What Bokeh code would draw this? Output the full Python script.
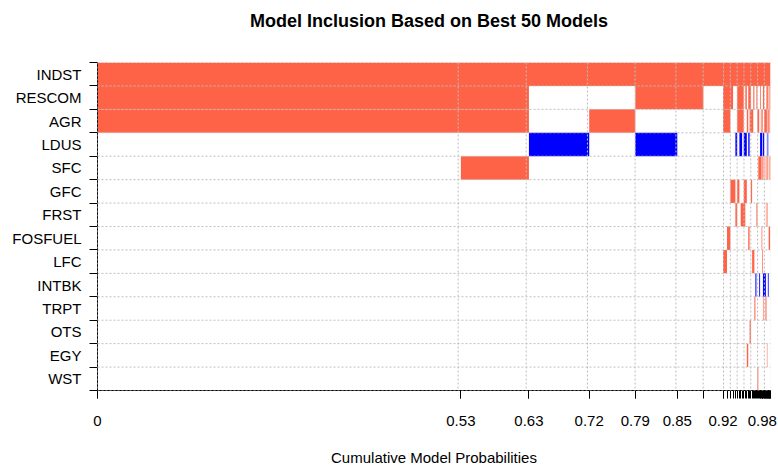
import numpy as np
from bokeh.plotting import figure
from bokeh.models import Range1d, FixedTicker, Span, Title
from bokeh.embed import file_html
from bokeh.resources import INLINE

# Regressors, ordered by posterior inclusion probability (top to bottom)
variables = ["INDST", "RESCOM", "AGR", "LDUS", "SFC", "GFC", "FRST",
             "FOSFUEL", "LFC", "INTBK", "TRPT", "OTS", "EGY", "WST"]

# Posterior model probabilities of the 50 best models
model_probs = [0.534, 0.100, 0.0886, 0.0677, 0.0617, 0.0383, 0.0289,
               0.0059, 0.0049, 0.0040, 0.0034, 0.0026, 0.0033, 0.0019, 0.0021, 0.0024,
               0.0023, 0.0022, 0.0021, 0.0020, 0.0019, 0.0018, 0.0017, 0.0016, 0.0015, 0.0015,
               0.0014, 0.0014, 0.0013, 0.0013, 0.0011, 0.0011, 0.0010, 0.0010, 0.0009, 0.0009,
               0.0009, 0.0008, 0.0008, 0.0008, 0.0007, 0.0007, 0.0007, 0.0006, 0.0006, 0.0006,
               0.0006, 0.0005, 0.0005, 0.0005]

# Coefficient sign per model: "-" negative, "+" positive, "." not included
signs = [
    "-" * 50,
    "--..--.---" "..----.-.-" "-..-..-..." "-...--...." "---.-.-.--",
    "--.-...--." "..----..-." "---....--." ".-.-..----" "-.-.--.--.",
    "..+.+....." ".+.++.++.+" ".........." "+++.++...." ".+.+......",
    ".-........" ".........." "........--" "--.-.-.-.." "-.--...---",
    ".........-" "-.-...--.." ".-........" ".........." "..........",
    ".........." ".-..---..." "......-..." ".........-" "..-.......",
    "........-." ".........-" ".........." "..-......." ".....----.",
    ".......-.." ".........." "..--......" "...-......" "..........",
    ".........." ".........." ".....+...+" "....+++++." "...++.....",
    ".........." ".........." "....-....." "....-...-." "-.........",
    ".........." ".........." "-........." ".........." "..........",
    ".........." "........-." ".........." ".........." ".-........",
    ".........." ".........." ".......-.." ".........." "..........",
]

sign_colors = {"-": "tomato", "+": "blue"}
title_text = "Model Inclusion Based on Best  50  Models"

bounds = np.concatenate([[0.0], np.cumsum(model_probs)])
total = float(bounds[-1])
n_vars = len(variables)

W, H = 778, 468
ML, MR, MT, MB = 97, 8, 62, 78
FONT = "Liberation Sans"

p = figure(width=W, height=H, x_range=Range1d(0, total), y_range=Range1d(0, n_vars),
           output_backend="svg", toolbar_location=None,
           min_border_left=ML, min_border_right=MR, min_border_top=MT, min_border_bottom=MB)
p.outline_line_color = None
p.xgrid.visible = False
p.ygrid.visible = False

# Cells: merge consecutive models with the same sign into one block per row
left, right, bottom, top, color = [], [], [], [], []
for i, s in enumerate(signs):
    j = 0
    while j < len(s):
        ch = s[j]
        k = j
        while k + 1 < len(s) and s[k + 1] == ch:
            k += 1
        if ch != ".":
            left.append(bounds[j]); right.append(bounds[k + 1])
            bottom.append(n_vars - 1 - i); top.append(n_vars - i)
            color.append(sign_colors[ch])
        j = k + 1
p.quad(left=left, right=right, bottom=bottom, top=top, fill_color=color, line_color=None)

# Dotted grid over the cells
for v in sorted(set(round(float(b), 2) for b in bounds)):
    p.add_layout(Span(location=v, dimension="height", line_color="#BEBEBE",
                      line_dash="2 2", line_width=1))
for h in range(n_vars + 1):
    p.add_layout(Span(location=h, dimension="width", line_color="#BEBEBE",
                      line_dash="2 2", line_width=1))

# x axis: a tick at every model bound, labels kept only where they do not overlap
def fmt(v):
    return ("%.2f" % v).rstrip("0").rstrip(".")

frame_w = W - ML - MR
px_per_unit = frame_w / total
fs = 15
def label_width(t):
    return sum((0.278 if c == "." else 0.556) * fs for c in t)

label_ticks, overrides = [], {}
last_right = -1e9
for b in bounds:
    t = fmt(b)
    x = b * px_per_unit
    w = label_width(t)
    if x - w / 2 >= last_right + 10:
        label_ticks.append(float(b))
        overrides[float(b)] = t
        last_right = x + w / 2

xa = p.xaxis[0]
xa.ticker = FixedTicker(ticks=label_ticks, minor_ticks=[float(b) for b in bounds])
xa.major_label_overrides = overrides
xa.axis_label = "Cumulative Model Probabilities"

ya = p.yaxis[0]
centers = [n_vars - i - 0.5 for i in range(n_vars)]
ya.ticker = FixedTicker(ticks=centers, minor_ticks=list(range(n_vars + 1)))
ya.major_label_overrides = {c: v for c, v in zip(centers, variables)}
ya.major_tick_line_color = None
ya.major_tick_out = 0
ya.major_tick_in = 0
ya.major_label_standoff = 8

xa.major_tick_out = 8
xa.major_tick_in = 0
xa.major_label_standoff = 17
xa.axis_label_standoff = 20

for ax in (xa, ya):
    ax.axis_line_color = "black"
    ax.minor_tick_line_color = "black"
    ax.minor_tick_out = 8
    ax.minor_tick_in = 0
    ax.major_label_text_font = FONT
    ax.major_label_text_font_size = "15px"
    ax.major_label_text_color = "black"
    ax.axis_label_text_font = FONT
    ax.axis_label_text_font_size = "15px"
    ax.axis_label_text_font_style = "normal"
    ax.axis_label_text_color = "black"
xa.major_tick_line_color = "black"

# Blank band between the plotting area and the title, then the title itself
p.add_layout(Title(text=" ", text_font_size="16px", standoff=8), "above")
p.add_layout(Title(text=title_text, align="center", text_font=FONT,
                   text_font_size="18px", text_font_style="bold",
                   text_color="black", standoff=10), "above")

open("out.html", "w").write(file_html(p, INLINE))
